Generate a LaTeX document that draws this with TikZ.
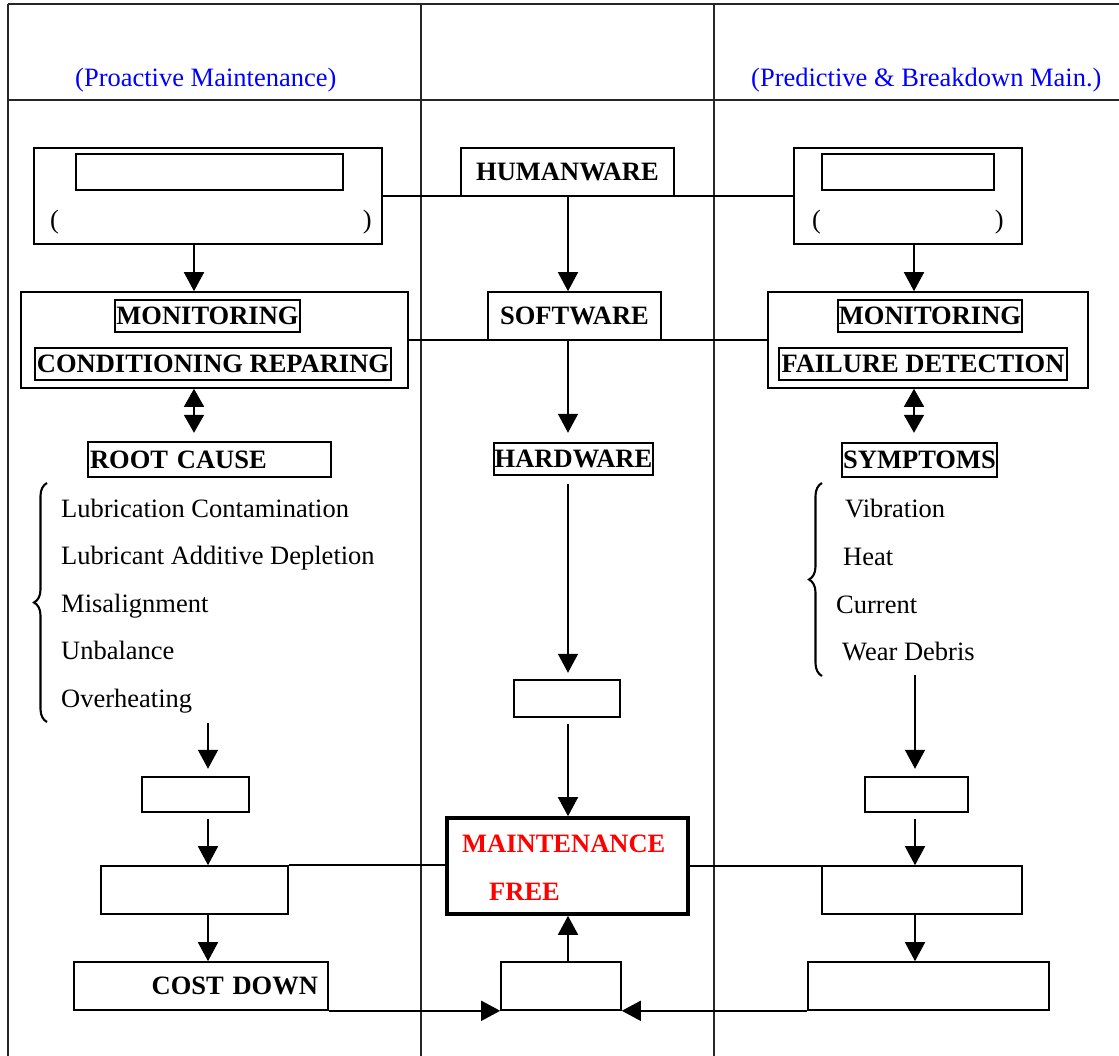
\documentclass[tikz,border=0pt]{standalone}
\usepackage{fontspec}
\setmainfont{Liberation Serif}
\usetikzlibrary{arrows.meta,decorations.pathreplacing}
\definecolor{hdrblue}{RGB}{0,0,255}
\definecolor{mfred}{RGB}{255,0,0}
\tikzset{
  txt/.style={font=\fontsize{26.5}{32}\selectfont, inner sep=0pt},
  btxt/.style={font=\fontsize{26.5}{32}\selectfont\bfseries},
  frame/.style={line width=1.8pt, draw=black!85},
  ln/.style={line width=1.6pt},
  bigbox/.style={draw, line width=1.6pt, inner sep=0pt},
  lblbox/.style={draw, line width=2.4pt, inner sep=0pt, btxt},
  emptybox/.style={draw, line width=2.4pt, inner sep=0pt},
  mfbox/.style={draw, line width=3.6pt, inner sep=0pt},
  arr/.style={line width=1.6pt, -{Triangle[length=19pt,width=20pt]}},
  darr/.style={line width=1.6pt, {Triangle[length=18pt,width=20pt]}-{Triangle[length=18pt,width=20pt]}},
  brc/.style={line width=2.1pt, decorate, decoration={brace, amplitude=13pt}}
}
\begin{document}
\begin{tikzpicture}[x=1pt,y=-1pt]
\useasboundingbox (0,0) rectangle (1119,1056);
% table grid
\draw[frame] (8,4) -- (1119,4);
\draw[frame] (8,100) -- (1119,100);
\draw[frame] (8,4) -- (8,1056);
\draw[frame] (421,4) -- (421,1056);
\draw[frame] (714,4) -- (714,1056);
% headers
\node[txt, text=hdrblue, anchor=base west] (hl) at (75,87) {(Proactive Maintenance)};
\node[txt, text=hdrblue, anchor=base west] (hr) at (751,87) {(Predictive \& Breakdown Main.)};
% column reference coordinates
\coordinate (lx) at (194,0);
\coordinate (lx2) at (208,0);
\coordinate (cx) at (568,0);
\coordinate (rx) at (914,0);
\coordinate (rx2) at (915,0);
% ---------- left column
\node[bigbox, minimum width=348pt, minimum height=96pt] (lb1) at (208,196) {};
\node[emptybox, minimum width=267pt, minimum height=36pt] (lb1in) at (209.5,172) {};
\node[txt, anchor=base west] (lpo) at (50,229) {(};
\node[txt, anchor=base east] (lpc) at (372,229) {)};
\node[bigbox, minimum width=387pt, minimum height=96pt] (lb2) at (214.5,340) {};
\node[lblbox, minimum width=185pt, minimum height=32pt] (lmon) at (207.5,316) {MONITORING};
\node[lblbox, minimum width=356pt, minimum height=32pt] (lcond) at (213,364) {CONDITIONING REPARING};
\node[lblbox, minimum height=35pt, text width=239pt, inner xsep=2pt, align=left] (root) at (209.5,459.5) {ROOT CAUSE};
\draw[brc] (47,722) -- (47,483);
\node[txt, anchor=base west] (l1) at (61,517) {Lubrication Contamination};
\node[txt, anchor=base west] (l2) at (61,564.5) {Lubricant Additive Depletion};
\node[txt, anchor=base west] (l3) at (61,612) {Misalignment};
\node[txt, anchor=base west] (l4) at (61,659.5) {Unbalance};
\node[txt, anchor=base west] (l5) at (61,707) {Overheating};
\coordinate (lend) at (208,723);
\node[emptybox, minimum width=107pt, minimum height=35pt] (lsm) at (195.5,794.5) {};
\node[bigbox, minimum width=187pt, minimum height=48pt] (lb3) at (194.5,890) {};
\node[bigbox, btxt, minimum height=48pt, text width=234pt, inner xsep=10pt, align=right] (cost) at (201,986) {COST DOWN};
% ---------- center column
\node[bigbox, btxt, minimum width=213pt, minimum height=48pt] (hum) at (567.5,172) {HUMANWARE};
\node[bigbox, btxt, minimum width=173pt, minimum height=48pt] (sw) at (574.5,316) {SOFTWARE};
\node[lblbox, minimum width=159pt, minimum height=32pt] (hw) at (573.5,459) {HARDWARE};
\node[emptybox, minimum width=106pt, minimum height=37pt] (csm) at (567,698.5) {};
\node[mfbox, minimum width=241pt, minimum height=96pt] (mf) at (567.5,866) {};
\node[btxt, text=mfred, anchor=base west, inner sep=0pt] (mft1) at (462,852) {MAINTENANCE};
\node[btxt, text=mfred, anchor=base west, inner sep=0pt] (mft2) at (489,900) {FREE};
\node[bigbox, minimum width=120pt, minimum height=48pt] (bb) at (561,986) {};
% ---------- right column
\node[bigbox, minimum width=228pt, minimum height=96pt] (rb1) at (908,196) {};
\node[emptybox, minimum width=172pt, minimum height=36pt] (rb1in) at (908,172) {};
\node[txt, anchor=base west] (rpo) at (812,229) {(};
\node[txt, anchor=base east] (rpc) at (1004,229) {)};
\node[bigbox, minimum width=320pt, minimum height=96pt] (rb2) at (928,340) {};
\node[lblbox, minimum width=184pt, minimum height=32pt] (rmon) at (930,316) {MONITORING};
\node[lblbox, minimum width=288pt, minimum height=32pt] (rfail) at (923,364) {FAILURE DETECTION};
\node[lblbox, minimum width=155pt, minimum height=34pt] (symp) at (919.5,460) {SYMPTOMS};
\draw[brc] (822,676) -- (822,483);
\node[txt, anchor=base west] (r1) at (845,517) {Vibration};
\node[txt, anchor=base west] (r2) at (843,565) {Heat};
\node[txt, anchor=base west] (r3) at (836,613) {Current};
\node[txt, anchor=base west] (r4) at (842,660) {Wear Debris};
\coordinate (rend) at (915,675);
\node[emptybox, minimum width=103pt, minimum height=35pt] (rsm) at (916.5,794.5) {};
\node[bigbox, minimum width=200pt, minimum height=48pt] (rb3) at (922,890) {};
\node[bigbox, minimum width=241pt, minimum height=48pt] (rbot) at (928.5,986) {};
% ---------- horizontal connectors
\draw[ln] (lb1.east) -- (rb1.west);
\draw[ln] (lb2.east) -- (rb2.west);
\draw[ln] (lb3.north east) -- (lb3.north east -| mf.west);
\draw[ln] (mf.east) -- (mf.east -| rb3.north west);
\draw[arr] (cost.south east) -- (bb.south west);
\draw[arr] (rbot.south west) -- (bb.south east);
% ---------- vertical connectors, left
\draw[arr] (lb1.south -| lx) -- (lb2.north -| lx);
\draw[darr, shorten >=8pt] (lb2.south -| lx) -- (root.north -| lx);
\draw[arr, shorten >=7pt] (lend) -- (lsm.north -| lend);
\draw[arr, shorten <=6pt] (lsm.south -| lx2) -- (lb3.north -| lx2);
\draw[arr] (lb3.south -| lx2) -- (cost.north -| lx2);
% ---------- vertical connectors, center
\draw[arr] (hum.south -| cx) -- (sw.north -| cx);
\draw[arr, shorten >=9pt] (sw.south -| cx) -- (hw.north -| cx);
\draw[arr, shorten <=8pt, shorten >=6pt] (hw.south -| cx) -- (csm.north -| cx);
\draw[arr, shorten <=6pt] (csm.south -| cx) -- (mf.north -| cx);
\draw[arr] (bb.north -| cx) -- (mf.south -| cx);
% ---------- vertical connectors, right
\draw[arr] (rb1.south -| rx) -- (rb2.north -| rx);
\draw[darr, shorten >=9pt] (rb2.south -| rx) -- (symp.north -| rx);
\draw[arr, shorten >=7pt] (rend) -- (rsm.north -| rend);
\draw[arr, shorten <=6pt] (rsm.south -| rx2) -- (rb3.north -| rx2);
\draw[arr] (rb3.south -| rx2) -- (rbot.north -| rx2);
\end{tikzpicture}
\end{document}
